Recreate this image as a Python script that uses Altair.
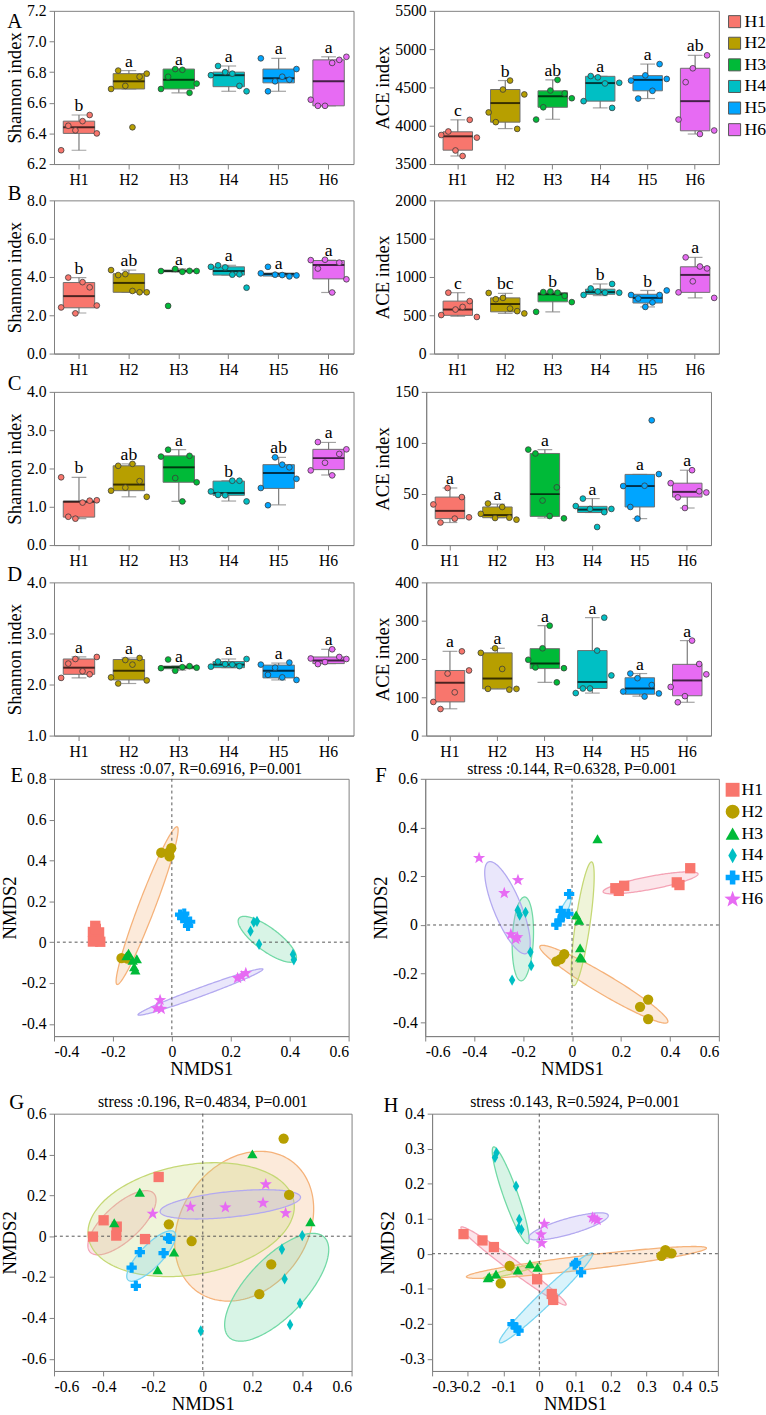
import altair as alt
import numpy as np
import pandas as pd

FONT = "Liberation Serif"
GROUPS = ["H1", "H2", "H3", "H4", "H5", "H6"]
COLORS = ["#F8766D", "#B79F00", "#00BA38", "#00BFC4", "#00A5FF", "#E76BF3"]
ELLIPSE_COLORS = ["#F4A3B5", "#F5B27A", "#C5D875", "#72D9A6", "#78D4F0", "#B3A9F0"]
STAR = "M0,-1.25L0.3,-0.41L1.19,-0.39L0.49,0.16L0.74,1.01L0,0.51L-0.74,1.01L-0.49,0.16L-1.19,-0.39L-0.3,-0.41Z"
DIAMOND = "M0,-1.1L0.62,0L0,1.1L-0.62,0Z"
SHAPES = ["square", "circle", "triangle-up", DIAMOND, "cross", STAR]

# ---------- box-plot panels: [low whisker, Q1, median, Q3, high whisker] per group ----------
A_SHANNON_BOX = [[6.29, 6.40, 6.44, 6.48, 6.52], [6.69, 6.69, 6.74, 6.79, 6.81], [6.665, 6.69, 6.75, 6.82, 6.82],
                 [6.675, 6.705, 6.78, 6.80, 6.84], [6.675, 6.73, 6.76, 6.82, 6.89], [6.58, 6.58, 6.74, 6.88, 6.90]]
A_SHANNON_PTS = [[6.29, 6.45, 6.42, 6.48, 6.52, 6.40], [6.69, 6.81, 6.71, 6.44, 6.77, 6.79],
                 [6.69, 6.77, 6.82, 6.815, 6.665, 6.725], [6.78, 6.84, 6.80, 6.79, 6.71, 6.675],
                 [6.89, 6.675, 6.74, 6.77, 6.75, 6.82], [6.62, 6.58, 6.58, 6.86, 6.88, 6.90]]
A_SHANNON_SIG = ["b", "a", "a", "a", "a", "a"]

A_ACE_BOX = [[3605, 3681, 3862, 3921, 4077], [3963, 4047, 4296, 4473, 4590], [4085, 4241, 4384, 4456, 4599],
             [4233, 4321, 4557, 4645, 4645], [4355, 4456, 4599, 4654, 4805], [3892, 3934, 4321, 4750, 4919]]
A_ACE_PTS = [[3879, 3925, 3677, 3605, 4077, 3845], [4174, 4047, 4473, 4590, 3959, 4409],
             [4081, 4241, 4460, 4599, 4422, 4359], [4321, 4649, 4632, 4552, 4233, 4561],
             [4590, 4355, 4658, 4456, 4805, 4611], [4081, 4569, 4750, 3892, 4919, 3938]]
A_ACE_SIG = ["c", "b", "ab", "a", "a", "ab"]

B_SHANNON_BOX = [[2.12, 2.39, 3.00, 3.71, 3.97], [3.20, 3.20, 3.69, 4.17, 4.36], [4.27, 4.27, 4.31, 4.36, 4.42],
                 [4.10, 4.10, 4.31, 4.53, 4.61], [4.03, 4.05, 4.15, 4.20, 4.20], [3.19, 3.90, 4.63, 4.86, 4.88]]
B_SHANNON_PTS = [[2.41, 3.97, 2.10, 3.73, 3.46, 2.51], [4.36, 4.10, 4.15, 3.27, 3.20, 3.20],
                 [4.31, 2.49, 4.42, 4.27, 4.32, 4.31], [4.53, 4.61, 4.50, 4.12, 4.14, 3.44],
                 [4.19, 4.53, 4.12, 4.10, 4.03, 4.08], [4.88, 4.44, 4.90, 3.19, 4.75, 3.88]]
B_SHANNON_SIG = ["b", "ab", "a", "a", "a", "a"]

B_ACE_BOX = [[486, 499, 575, 685, 795], [524, 545, 647, 727, 786], [545, 676, 774, 795, 816],
             [757, 774, 803, 841, 909], [609, 660, 727, 774, 824], [727, 799, 1027, 1133, 1256]]
B_ACE_PTS = [[503, 795, 575, 609, 685, 478], [791, 710, 727, 588, 554, 524], [545, 803, 810, 795, 753, 672],
             [765, 850, 810, 795, 909, 795], [765, 719, 609, 668, 765, 824], [799, 1256, 943, 1137, 1112, 727]]
B_ACE_SIG = ["c", "bc", "b", "b", "b", "a"]

C_SHANNON_BOX = [[0.69, 0.73, 1.13, 1.15, 1.77], [1.26, 1.42, 1.58, 2.07, 2.12], [1.14, 1.64, 2.03, 2.33, 2.49],
                 [1.15, 1.30, 1.36, 1.67, 1.68], [1.05, 1.48, 1.88, 2.10, 2.29], [1.83, 1.97, 2.27, 2.50, 2.68]]
C_SHANNON_PTS = [[1.77, 0.74, 0.69, 1.11, 1.16, 1.17], [1.42, 2.07, 1.50, 2.12, 1.67, 1.26],
                 [2.31, 2.49, 1.75, 1.14, 2.33, 1.64], [1.40, 1.31, 1.30, 1.68, 1.68, 1.14],
                 [1.49, 1.04, 2.29, 2.10, 2.03, 1.73], [1.95, 2.69, 2.15, 1.82, 2.38, 2.50]]
C_SHANNON_SIG = ["b", "ab", "a", "b", "ab", "a"]

C_ACE_BOX = [[22.1, 25.9, 33.5, 47.0, 55.9], [26.8, 26.8, 29.4, 37.3, 40.1], [26.5, 28.1, 49.9, 89.7, 93.5],
             [31.9, 31.9, 34.7, 37.9, 45.5], [25.9, 37.3, 57.8, 69.2, 69.2], [36.3, 47.0, 52.1, 60.6, 73.3]]
C_ACE_PTS = [[39.8, 22.1, 55.9, 25.9, 47.0, 27.2], [30.6, 40.7, 26.5, 37.3, 26.8, 24.9],
             [93.5, 89.7, 43.6, 28.4, 56.5, 26.2], [38.2, 45.5, 35.4, 17.7, 32.2, 35.4],
             [57.8, 37.3, 25.9, 58.1, 122.2, 69.5], [60.6, 46.7, 36.3, 73.3, 52.7, 51.5]]
C_ACE_SIG = ["a", "a", "a", "a", "a", "a"]

D_SHANNON_BOX = [[2.13, 2.20, 2.33, 2.50, 2.54], [2.02, 2.09, 2.27, 2.49, 2.52], [2.28, 2.31, 2.34, 2.36, 2.36],
                 [2.33, 2.33, 2.39, 2.45, 2.50], [2.09, 2.13, 2.27, 2.38, 2.42], [2.41, 2.41, 2.47, 2.54, 2.69]]
D_SHANNON_PTS = [[2.13, 2.41, 2.50, 2.26, 2.20, 2.54], [2.14, 2.02, 2.48, 2.39, 2.52, 2.08],
                 [2.32, 2.49, 2.27, 2.34, 2.36, 2.33], [2.35, 2.45, 2.40, 2.39, 2.36, 2.50],
                 [2.39, 2.19, 2.33, 2.14, 2.43, 2.09], [2.51, 2.40, 2.44, 2.69, 2.54, 2.50]]
D_SHANNON_SIG = ["a", "a", "a", "a", "a", "a"]

D_ACE_BOX = [[70, 88, 138, 170, 220], [122, 122, 149, 216, 228], [139, 175, 188, 227, 287],
             [111, 123, 140, 222, 308], [103, 108, 123, 151, 162], [87, 104, 144, 186, 248]]
D_ACE_PTS = [[87.9, 69.3, 162, 113, 220, 170], [216, 122, 228, 174, 120, 122], [198, 178, 228, 287, 139, 176],
             [111, 123, 123, 222, 308, 157], [115, 162, 150, 102, 132, 110], [127, 87, 103, 248, 187, 160]]
D_ACE_SIG = ["a", "a", "a", "a", "a", "a"]

# ---------- NMDS panels: sample scores (NMDS1, NMDS2) per group ----------
E_PTS = [[(-0.26, 0.08), (-0.268, 0.05), (-0.247, 0.048), (-0.268, 0.003), (-0.243, 0.002), (-0.258, 0.065)],
         [(-0.036, 0.438), (-0.002, 0.46), (-0.008, 0.42), (-0.171, -0.078), (-0.15, -0.08), (-0.01, 0.44)],
         [(-0.147, -0.054), (-0.133, -0.089), (-0.119, -0.081), (-0.128, -0.121), (-0.124, -0.137), (-0.154, -0.067)],
         [(0.267, 0.054), (0.278, 0.098), (0.289, 0.102), (0.296, -0.01), (0.411, -0.06), (0.414, -0.086)],
         [(0.028, 0.135), (0.042, 0.14), (0.035, 0.118), (0.062, 0.1), (0.055, 0.08), (0.048, 0.112)],
         [(-0.04, -0.284), (-0.052, -0.324), (-0.036, -0.327), (0.223, -0.176), (0.237, -0.168), (0.251, -0.152)]]
F_PTS = [[(0.177, 0.151), (0.191, 0.14), (0.213, 0.161), (0.428, 0.175), (0.439, 0.164), (0.483, 0.233)],
         [(-0.064, -0.149), (-0.047, -0.14), (-0.032, -0.12), (0.278, -0.336), (0.311, -0.306), (0.311, -0.386)],
         [(0.104, 0.354), (0.017, 0.041), (0.029, 0.019), (0.033, -0.094), (0.033, -0.131), (0.039, -0.136)],
         [(-0.222, 0.061), (-0.214, 0.041), (-0.19, 0.052), (-0.17, -0.111), (-0.167, -0.167), (-0.245, -0.226)],
         [(-0.012, 0.127), (-0.046, 0.058), (-0.037, 0.038), (-0.015, 0.046), (-0.051, 0.019), (-0.064, 0.001)],
         [(-0.38, 0.275), (-0.277, 0.131), (-0.221, 0.184), (-0.25, -0.038), (-0.23, -0.058), (-0.224, -0.05)]]
G_PTS = [[(-0.178, 0.29), (-0.4, 0.078), (-0.347, 0.047), (-0.349, 0.003), (-0.443, -0.002), (-0.233, -0.014)],
         [(0.326, 0.478), (0.348, 0.202), (-0.137, 0.058), (-0.045, -0.024), (0.276, -0.138), (0.228, -0.284)],
         [(0.2, 0.403), (-0.254, 0.215), (-0.357, 0.066), (-0.116, -0.078), (-0.182, -0.165), (0.434, 0.071)],
         [(0.401, 0.003), (0.319, -0.064), (0.33, -0.209), (0.392, -0.329), (0.352, -0.433), (-0.008, -0.464)],
         [(-0.254, -0.078), (-0.133, -0.013), (-0.158, -0.083), (-0.287, -0.154), (-0.27, -0.243), (-0.14, -0.01)],
         [(-0.202, 0.11), (-0.05, 0.144), (0.091, 0.141), (0.243, 0.163), (0.254, 0.254), (0.334, 0.113)]]
H_PTS = [[(-0.212, 0.056), (-0.159, 0.038), (-0.127, 0.019), (-0.006, -0.073), (0.035, -0.115), (0.039, -0.132)],
         [(-0.083, -0.035), (-0.108, -0.085), (0.342, -0.006), (0.353, 0.01), (0.37, 0.001), (0.355, 0.004)],
         [(-0.144, -0.069), (-0.121, -0.058), (-0.06, -0.047), (-0.026, -0.029), (-0.005, -0.039), (-0.14, -0.065)],
         [(-0.124, 0.275), (-0.12, 0.288), (-0.065, 0.193), (-0.056, 0.098), (-0.058, 0.073), (-0.05, 0.069)],
         [(0.099, -0.031), (0.103, -0.026), (0.117, -0.053), (-0.075, -0.201), (-0.064, -0.211), (-0.058, -0.22)],
         [(0.014, 0.085), (0.005, 0.055), (0.007, 0.03), (0.149, 0.103), (0.162, 0.096), (0.155, 0.1)]]

# confidence ellipses: (centre x, centre y, major-axis end x, y, minor-axis end x, y); None = not drawn
E_ELL = [None, (-0.084, 0.179, 0.018, 0.565, -0.058, 0.165), None,
         (0.324, 0.014, 0.42, -0.089, 0.348, 0.059), None, (0.097, -0.244, 0.309, -0.132, 0.102, -0.264)]
F_ELL = [(0.321, 0.173, 0.515, 0.21, 0.327, 0.147), (0.13, -0.243, 0.391, -0.399, 0.109, -0.277),
         (0.0435, 0.005, 0.08, 0.259, 0.073, 0.001), (-0.201, -0.057, -0.194, 0.115, -0.158, -0.057),
         (-0.033, 0.058, -0.007, 0.114, -0.021, 0.0525), (-0.264, 0.071, -0.341, 0.259, -0.212, 0.092)]
G_ELL = [(-0.326, 0.066, -0.198, 0.21, -0.276, 0.003), (0.167, 0.049, 0.349, 0.375, 0.38, -0.119),
         (-0.047, 0.081, 0.367, 0.171, -0.006, -0.183), (0.298, -0.25, 0.489, -0.004, 0.385, -0.346),
         (-0.208, -0.097, -0.115, 0.021, -0.175, -0.134), (0.111, 0.156, 0.394, 0.192, 0.117, 0.094)]
H_ELL = [(-0.072, -0.035, 0.075, -0.146, -0.082, -0.048), (0.132, -0.025, 0.468, 0.016, 0.134, -0.045),
         (-0.076, -0.05, 0.005, -0.029, -0.074, -0.057), (-0.08, 0.167, -0.128, 0.305, -0.061, 0.174),
         (0.019, -0.126, 0.149, 0.002, 0.033, -0.14), (0.082, 0.078, 0.193, 0.11, 0.088, 0.056)]

STRESS_TITLES = ["stress :0.07, R=0.6916, P=0.001", "stress :0.144, R=0.6328, P=0.001",
                 "stress :0.196, R=0.4834, P=0.001", "stress :0.143, R=0.5924, P=0.001"]

CSCALE = alt.Scale(domain=GROUPS, range=COLORS)
SSCALE = alt.Scale(domain=GROUPS, range=SHAPES)
NUMFMT = "abs(datum.value) < 1e-9 ? '0' : (datum.value < 0 ? '-' : '') + format(abs(datum.value), '.1f')"
AX = dict(labelFont=FONT, labelFontSize=16, titleFont=FONT, titleFontSize=19, labelOverlap=False)


def note(text, lx, ly, size, align="center"):
    return alt.Chart(pd.DataFrame({"t": [text]})).mark_text(
        font=FONT, fontSize=size, align=align, baseline="middle", color="black"
    ).encode(x=alt.value(lx), y=alt.value(ly), text="t:N")


def box_panel(box, pts, sig, ydom, yticks, yfmt, ytitle, w, h, letter=None, lxy=(-40, 0)):
    sdf = pd.DataFrame(box, columns=["lo", "q1", "med", "q3", "hi"])
    sdf["group"] = GROUPS
    sdf["sig"] = sig
    tops = []
    for (lo, q1, med, q3, hi), p in zip(box, pts):
        lim = q3 + 1.5 * (q3 - q1)
        tops.append(max([hi] + [v for v in p if v <= lim]))
    sdf["top"] = tops
    pdf = pd.DataFrame([{"group": g, "rep": i + 1, "value": v}
                        for g, p in zip(GROUPS, pts) for i, v in enumerate(p)])
    bw = round(w / 6 * 0.63)
    xenc = alt.X("group:N", scale=alt.Scale(domain=GROUPS, paddingInner=0, paddingOuter=0),
                 axis=alt.Axis(title=None, labelAngle=0, **AX))
    yscale = alt.Scale(domain=ydom, nice=False, zero=False)
    yaxis = alt.Axis(title=ytitle, values=yticks, tickCount=len(yticks), format=yfmt, **AX)
    base = alt.Chart(sdf)
    whisk = base.mark_rule(color="#7a7a7a", strokeWidth=1.2).encode(
        x=xenc, y=alt.Y("lo:Q", scale=yscale, axis=yaxis), y2="hi:Q")
    cap_lo = base.mark_tick(color="#7a7a7a", size=15, thickness=1.2).encode(x=xenc, y="lo:Q")
    cap_hi = base.mark_tick(color="#7a7a7a", size=15, thickness=1.2).encode(x=xenc, y="hi:Q")
    boxes = base.mark_bar(size=bw, stroke="#6e6e6e", strokeWidth=1, opacity=1).encode(
        x=xenc, y="q1:Q", y2="q3:Q", color=alt.Color("group:N", scale=CSCALE, legend=None))
    meds = base.mark_tick(color="black", size=bw, thickness=2).encode(x=xenc, y="med:Q")
    dots = alt.Chart(pdf).mark_circle(size=34, opacity=1, stroke="#3c3c3c", strokeWidth=0.8).encode(
        x=xenc, xOffset=alt.XOffset("rep:O", scale=alt.Scale(paddingOuter=1, paddingInner=0)),
        y="value:Q", color=alt.Color("group:N", scale=CSCALE, legend=None))
    sigt = base.mark_text(font=FONT, fontSize=18, baseline="alphabetic", dy=-4, color="black").encode(
        x=xenc, y="top:Q", text="sig:N")
    layers = [whisk, cap_lo, cap_hi, boxes, meds, dots, sigt]
    if letter:
        layers.append(note(letter, lxy[0], lxy[1], 21))
    return alt.layer(*layers).properties(width=w, height=h)


def ellipse_frame(ells):
    rows = []
    for g, e in zip(GROUPS, ells):
        if e is None:
            continue
        cx, cy, mx, my, nx, ny = e
        ux, uy, vx, vy = mx - cx, my - cy, nx - cx, ny - cy
        amp = np.hypot(ux, vx)
        phi = np.arctan2(vx, ux)
        s = -np.cos(np.linspace(0, np.pi, 120))
        ac = np.arccos(np.clip(s, -1, 1))
        t1, t2 = phi + ac, phi - ac
        xs = cx + amp * s
        ya = cy + uy * np.cos(t1) + vy * np.sin(t1)
        yb = cy + uy * np.cos(t2) + vy * np.sin(t2)
        for a, b, c in zip(xs, ya, yb):
            rows.append({"group": g, "x": a, "ya": b, "yb": c})
    return pd.DataFrame(rows)


def nmds_panel(pts, ells, xdom, ydom, xticks, yticks, title, title_y, w, h, letter, lxy):
    pdf = pd.DataFrame([{"group": g, "x": x, "y": y} for g, pl in zip(GROUPS, pts) for (x, y) in pl])
    edf = ellipse_frame(ells)
    xscale = alt.Scale(domain=xdom, nice=False, zero=False)
    yscale = alt.Scale(domain=ydom, nice=False, zero=False)
    xaxis = alt.Axis(title="NMDS1", values=xticks, tickCount=len(xticks), labelExpr=NUMFMT,
                     titlePadding=0, **AX)
    yaxis = alt.Axis(title="NMDS2", values=yticks, tickCount=len(yticks), labelExpr=NUMFMT, **AX)
    ell = alt.Chart(edf).mark_area(orient="vertical", fillOpacity=0.28, strokeWidth=1.3, clip=True).encode(
        x=alt.X("x:Q", scale=xscale, axis=xaxis),
        y=alt.Y("ya:Q", scale=yscale, axis=yaxis, stack=None), y2="yb:Q",
        fill=alt.Fill("group:N", scale=alt.Scale(domain=GROUPS, range=ELLIPSE_COLORS), legend=None),
        stroke=alt.Stroke("group:N", scale=alt.Scale(domain=GROUPS, range=ELLIPSE_COLORS), legend=None),
        detail="group:N")
    zero = pd.DataFrame({"v": [0.0]})
    vline = alt.Chart(zero).mark_rule(color="#555555", strokeDash=[3, 3], strokeWidth=1).encode(x="v:Q")
    hline = alt.Chart(zero).mark_rule(color="#555555", strokeDash=[3, 3], strokeWidth=1).encode(y="v:Q")
    dots = alt.Chart(pdf).mark_point(filled=True, size=110, opacity=1).encode(
        x="x:Q", y="y:Q",
        color=alt.Color("group:N", scale=CSCALE, legend=None),
        shape=alt.Shape("group:N", scale=SSCALE, legend=None))
    lab = note(letter, lxy[0], lxy[1], 21)
    ttl = note(title, w / 2, title_y, 16)
    return alt.layer(ell, vline, hline, dots, lab, ttl).properties(width=w, height=h)


def legend_panel(shaped, h):
    df = pd.DataFrame({"group": GROUPS})
    y = alt.Y("group:N", axis=None, scale=alt.Scale(domain=GROUPS, paddingInner=0, paddingOuter=0))
    if shaped:
        sym = alt.Chart(df).mark_point(filled=True, size=200, opacity=1).encode(
            x=alt.value(7), y=y, color=alt.Color("group:N", scale=CSCALE, legend=None),
            shape=alt.Shape("group:N", scale=SSCALE, legend=None))
    else:
        sym = alt.Chart(df).mark_point(shape="square", filled=True, size=150, opacity=1,
                                       stroke="#555555", strokeWidth=1).encode(
            x=alt.value(6), y=y, color=alt.Color("group:N", scale=CSCALE, legend=None))
    txt = alt.Chart(df).mark_text(align="left", baseline="middle", font=FONT, fontSize=18,
                                  color="black").encode(x=alt.value(16), y=y, text="group:N")
    return alt.layer(sym, txt).properties(width=34, height=h, view=alt.ViewBackground(strokeOpacity=0))


LW, RW, BH = 305, 290, 156

a1 = box_panel(A_SHANNON_BOX, A_SHANNON_PTS, A_SHANNON_SIG, [6.2, 7.2], [6.2, 6.4, 6.6, 6.8, 7.0, 7.2], ".1f",
               "Shannon index", LW, BH, "A", (-40, 11))
a2 = box_panel(A_ACE_BOX, A_ACE_PTS, A_ACE_SIG, [3500, 5500], [3500, 4000, 4500, 5000, 5500], "d",
               "ACE index", RW, BH)
b1 = box_panel(B_SHANNON_BOX, B_SHANNON_PTS, B_SHANNON_SIG, [0, 8], [0, 2, 4, 6, 8], ".1f",
               "Shannon index", LW, BH, "B", (-40, -6))
b2 = box_panel(B_ACE_BOX, B_ACE_PTS, B_ACE_SIG, [0, 2000], [0, 500, 1000, 1500, 2000], "d",
               "ACE index", RW, BH)
c1 = box_panel(C_SHANNON_BOX, C_SHANNON_PTS, C_SHANNON_SIG, [0, 4], [0, 1, 2, 3, 4], ".1f",
               "Shannon index", LW, BH, "C", (-40, -8))
c2 = box_panel(C_ACE_BOX, C_ACE_PTS, C_ACE_SIG, [0, 150], [0, 50, 100, 150], "d",
               "ACE index", RW, BH)
d1 = box_panel(D_SHANNON_BOX, D_SHANNON_PTS, D_SHANNON_SIG, [1, 4], [1, 2, 3, 4], ".1f",
               "Shannon index", LW, BH, "D", (-40, -7))
d2 = box_panel(D_ACE_BOX, D_ACE_PTS, D_ACE_SIG, [0, 400], [0, 100, 200, 300, 400], "d",
               "ACE index", RW, BH)

e = nmds_panel(E_PTS, E_ELL, [-0.4, 0.6], [-0.46, 0.8], [-0.4, -0.2, 0, 0.2, 0.4, 0.6],
               [-0.4, -0.2, 0, 0.2, 0.4, 0.6, 0.8], STRESS_TITLES[0], -10, 300, 262, "E", (-38, -3))
f = nmds_panel(F_PTS, F_ELL, [-0.6, 0.6], [-0.456, 0.6], [-0.6, -0.4, -0.2, 0, 0.2, 0.4, 0.6],
               [-0.4, -0.2, 0, 0.2, 0.4, 0.6], STRESS_TITLES[1], -10, 299, 262, "F", (-45, -3))
g = nmds_panel(G_PTS, G_ELL, [-0.6, 0.6], [-0.66, 0.6], [-0.6, -0.4, -0.2, 0, 0.2, 0.4, 0.6],
               [-0.6, -0.4, -0.2, 0, 0.2, 0.4, 0.6], STRESS_TITLES[2], -12, 303, 262, "G", (-38, -11))
h = nmds_panel(H_PTS, H_ELL, [-0.3, 0.5], [-0.335, 0.4], [-0.3, -0.2, -0.1, 0, 0.1, 0.2, 0.3, 0.4, 0.5],
               [-0.3, -0.2, -0.1, 0, 0.1, 0.2, 0.3, 0.4], STRESS_TITLES[3], -12, 291, 262, "H", (-42, -8))

leg_box = legend_panel(False, 132)
leg_nmds = legend_panel(True, 134)

rowA = alt.hconcat(a1, alt.hconcat(a2, leg_box, spacing=6), spacing=19)
rowB = alt.hconcat(b1, b2, spacing=19)
rowC = alt.hconcat(c1, c2, spacing=19)
rowD = alt.hconcat(d1, d2, spacing=19)
rowEF = alt.hconcat(e, alt.hconcat(f, leg_nmds, spacing=4), spacing=22)
rowGH = alt.hconcat(g, h, spacing=26)

boxes = alt.vconcat(rowA, rowB, rowC, rowD, spacing=-6)
nmds = alt.vconcat(rowEF, rowGH, spacing=12)
chart = alt.vconcat(boxes, nmds, spacing=0).properties(
    padding={"left": 0, "top": -11, "right": 0, "bottom": 0})

chart = chart.configure_axis(
    labelFont=FONT, labelFontSize=16, labelColor="black", titleFont=FONT, titleFontSize=19,
    titleFontWeight="normal", titleColor="black", domainColor="#808080", tickColor="#808080",
    tickSize=5, grid=False, labelPadding=3, titlePadding=2, labelOverlap=False
).configure_view(stroke="#808080", strokeWidth=1)

chart.save("out.html", embed_options={"renderer": "svg", "actions": False})
